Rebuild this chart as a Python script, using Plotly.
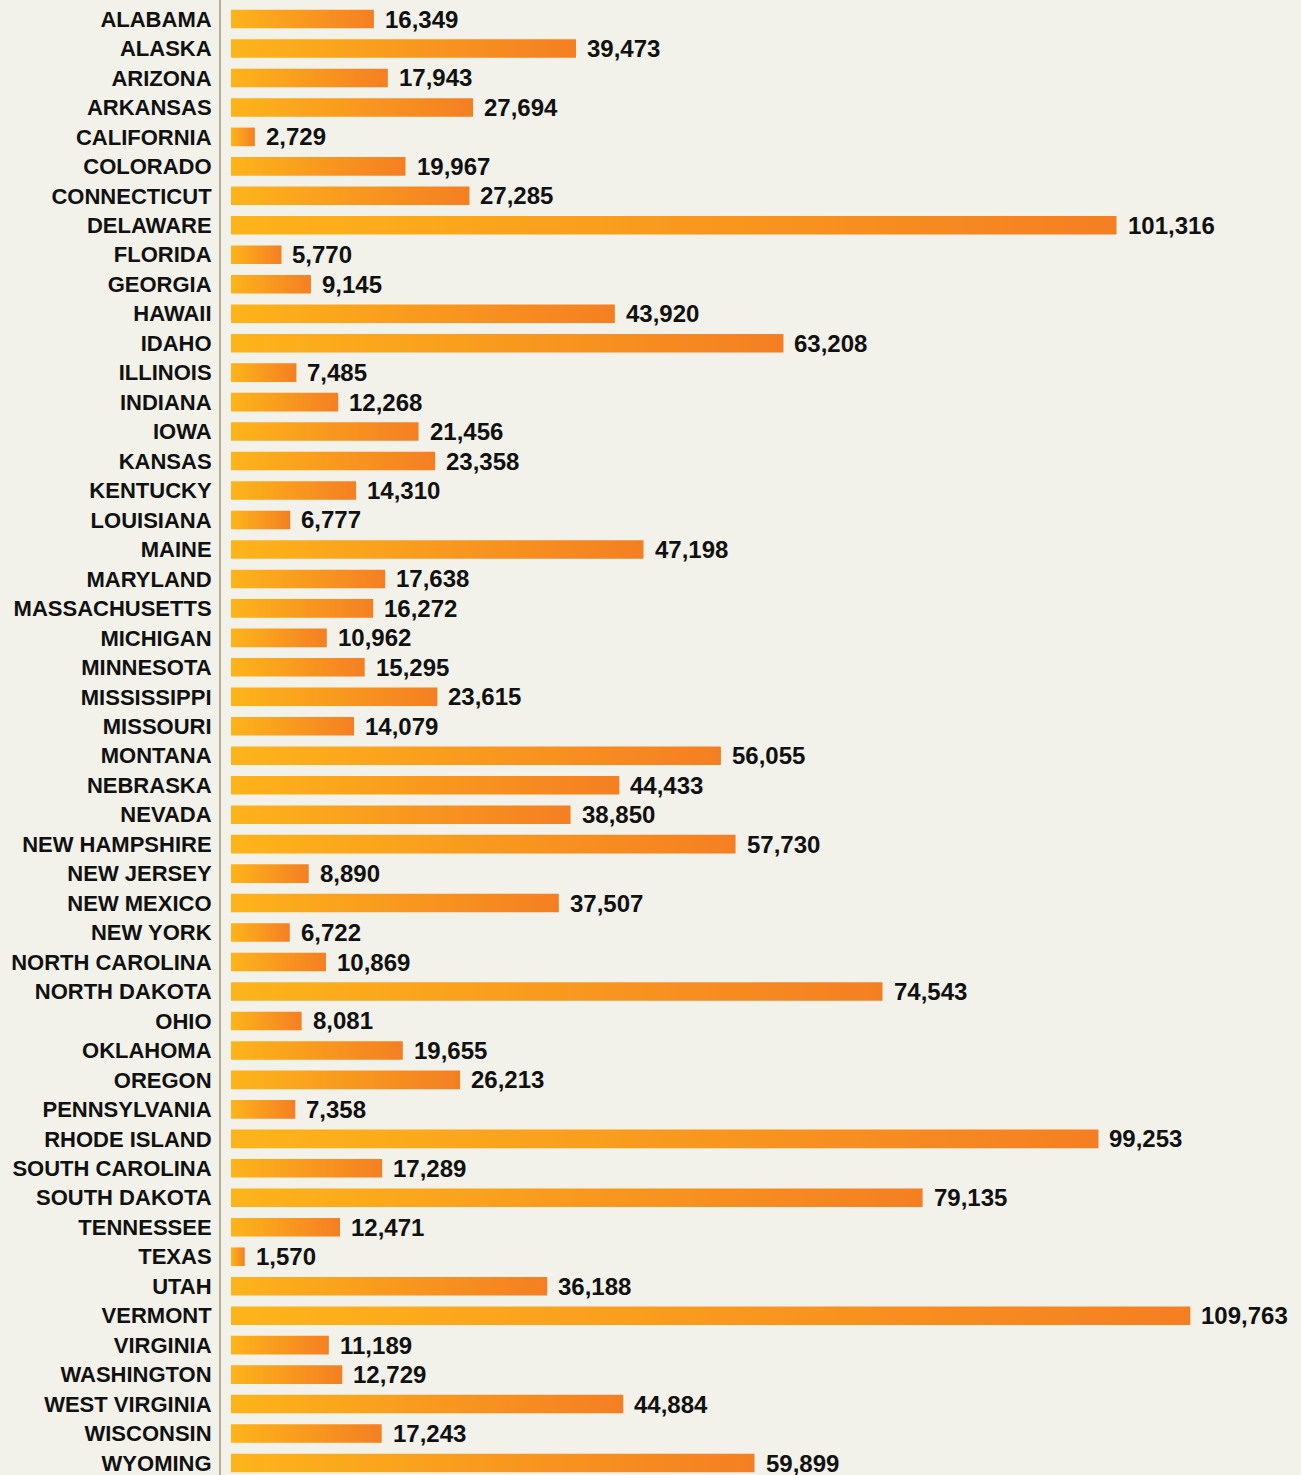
import plotly.graph_objects as go

states = ["ALABAMA", "ALASKA", "ARIZONA", "ARKANSAS", "CALIFORNIA", "COLORADO", "CONNECTICUT",
          "DELAWARE", "FLORIDA", "GEORGIA", "HAWAII", "IDAHO", "ILLINOIS", "INDIANA", "IOWA",
          "KANSAS", "KENTUCKY", "LOUISIANA", "MAINE", "MARYLAND", "MASSACHUSETTS", "MICHIGAN",
          "MINNESOTA", "MISSISSIPPI", "MISSOURI", "MONTANA", "NEBRASKA", "NEVADA", "NEW HAMPSHIRE",
          "NEW JERSEY", "NEW MEXICO", "NEW YORK", "NORTH CAROLINA", "NORTH DAKOTA", "OHIO",
          "OKLAHOMA", "OREGON", "PENNSYLVANIA", "RHODE ISLAND", "SOUTH CAROLINA", "SOUTH DAKOTA",
          "TENNESSEE", "TEXAS", "UTAH", "VERMONT", "VIRGINIA", "WASHINGTON", "WEST VIRGINIA",
          "WISCONSIN", "WYOMING"]
values = [16349, 39473, 17943, 27694, 2729, 19967, 27285, 101316, 5770, 9145, 43920, 63208,
          7485, 12268, 21456, 23358, 14310, 6777, 47198, 17638, 16272, 10962, 15295, 23615,
          14079, 56055, 44433, 38850, 57730, 8890, 37507, 6722, 10869, 74543, 8081, 19655,
          26213, 7358, 99253, 17289, 79135, 12471, 1570, 36188, 109763, 11189, 12729, 44884,
          17243, 59899]

BG = "#F2F1EA"
HALF = 0.315
fig = go.Figure()
for i, (s, v) in enumerate(zip(states, values)):
    fig.add_trace(go.Scatter(
        x=[0, v, v, 0, 0],
        y=[i - HALF, i - HALF, i + HALF, i + HALF, i - HALF],
        mode="lines", line=dict(width=0), fill="toself",
        fillgradient=dict(type="horizontal", colorscale=[[0, "#FDB41A"], [1, "#F47F22"]]),
        hoverinfo="skip", showlegend=False,
    ))

for i, v in enumerate(values):
    fig.add_annotation(x=v, y=i, text=f"{v:,}", showarrow=False, xanchor="left",
                       xshift=9, font=dict(family="Liberation Sans", size=24, color="#111111",
                                           weight="bold"))

fig.update_layout(
    width=1301, height=1475,
    margin=dict(l=221, r=0, t=0, b=0),
    paper_bgcolor=BG, plot_bgcolor=BG,
    xaxis=dict(range=[-1144, 122425], visible=False, fixedrange=True),
    yaxis=dict(range=[49.407, -0.645], tickmode="array", tickvals=list(range(len(states))),
               ticktext=states, showgrid=False, zeroline=False,
               showline=True, linecolor="#B7AD93", linewidth=2,
               ticks="outside", ticklen=3, tickcolor="rgba(0,0,0,0)",
               ticklabeloverflow="allow",
               tickfont=dict(family="Liberation Sans", size=22, color="#111111", weight="bold")),
    font=dict(family="Liberation Sans"),
)
fig.write_html("out.html", config={"displayModeBar": False},
               post_script="document.body.style.margin='0';document.body.style.overflow='hidden';"
                           "document.body.style.background='#F2F1EA';")
